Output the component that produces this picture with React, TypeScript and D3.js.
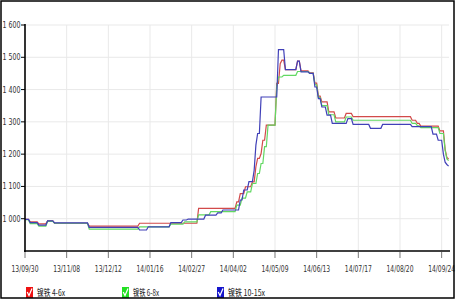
import React from "react";
import * as d3 from "d3";

// x axis: trading-day index, labelled every 24 points
const tickLabels = ["13/09/30", "13/11/08", "13/12/12", "14/01/16", "14/02/27", "14/04/02", "14/05/09", "14/06/13", "14/07/17", "14/08/20", "14/09/24"];
const tickStep = 24;
const lastIndex = 244;
const yTicks = [1000, 1100, 1200, 1300, 1400, 1500, 1600];

const seriesNames = ["镍铁 4-6x", "镍铁 6-8x", "镍铁 10-15x"];

// [start index, value] : value holds from that index to the next step
const redSteps: [number, number][] = [
  [0, 998], [3, 990], [8, 984], [13, 993], [17, 986], [37, 977], [66, 986],
  [100, 1032], [122, 1052], [124, 1078], [127, 1099], [131, 1114], [133, 1161],
  [134, 1187], [136, 1202], [137, 1243], [139, 1290], [145, 1419], [147, 1480],
  [148, 1491], [150, 1462], [157, 1488], [159, 1458], [164, 1452], [167, 1420],
  [169, 1380], [171, 1362], [175, 1331], [179, 1312], [185, 1326], [189, 1316],
  [223, 1305], [226, 1295], [228, 1287], [239, 1272], [242, 1215], [243, 1190], [244, 1185],
];
const greenSteps: [number, number][] = [
  [0, 997], [3, 985], [8, 977], [13, 992], [17, 986], [37, 968], [66, 975],
  [84, 983], [92, 990], [100, 1012], [107, 1022], [122, 1042], [125, 1064],
  [128, 1083], [131, 1109], [134, 1140], [136, 1171], [138, 1223], [140, 1290],
  [145, 1408], [146, 1439], [149, 1444], [157, 1456], [164, 1450], [167, 1415],
  [169, 1375], [171, 1350], [175, 1322], [179, 1300], [185, 1315], [189, 1305],
  [223, 1295], [226, 1288], [228, 1282], [239, 1264], [242, 1212], [243, 1185], [244, 1180],
];
const blueSteps: [number, number][] = [
  [0, 998], [3, 988], [8, 980], [13, 993], [17, 987], [37, 973], [66, 965],
  [71, 975], [84, 988], [91, 996], [94, 999], [104, 1011], [111, 1018], [114, 1027],
  [124, 1058], [126, 1089], [129, 1115], [132, 1150], [133, 1228], [134, 1264],
  [136, 1377], [146, 1524], [150, 1462], [157, 1488], [159, 1455], [164, 1450],
  [167, 1408], [169, 1372], [171, 1346], [174, 1321], [177, 1295], [186, 1310],
  [189, 1292], [199, 1280], [206, 1292], [223, 1285], [235, 1262], [238, 1243],
  [241, 1200], [242, 1175], [243, 1168], [244, 1163],
];

const lineColors = ["#d24a4a", "#62d862", "#4040b8"];
const boxColors = ["#ee1111", "#22e022", "#1515cc"];

function expand(steps: [number, number][]): [number, number][] {
  const pts: [number, number][] = [];
  steps.forEach(([s, v], k) => {
    pts.push([s, v]);
    const next = k + 1 < steps.length ? steps[k + 1][0] : lastIndex;
    if (next - 1 > s) pts.push([next - 1, v]);
  });
  return pts;
}

export default function App() {
  const W = 458, H = 302;
  const x = d3.scaleLinear().domain([0, lastIndex]).range([25, 448.6]);
  const y = d3.scaleLinear().domain([900, 1600]).range([251, 25]);
  const line = d3.line<[number, number]>().x((d) => x(d[0])).y((d) => y(d[1]));
  const all = [redSteps, greenSteps, blueSteps];
  const font = "Tahoma, 'DejaVu Sans', 'Liberation Sans', sans-serif";
  const labelW = [28, 26, 37];
  const legendX = [26, 122, 217];

  return (
    <svg width={W} height={H} style={{ position: "absolute", left: 0, top: 0 }} fontFamily={font}>
      <rect x={0} y={0} width={W} height={H} fill="#fff" />
      {/* grid */}
      {yTicks.map((t) => (
        <line key={"gy" + t} x1={25} x2={449} y1={y(t)} y2={y(t)} stroke="#e9e9e9" strokeWidth={1} />
      ))}
      {tickLabels.map((_, i) => i > 0 && (
        <line key={"gx" + i} x1={x(i * tickStep)} x2={x(i * tickStep)} y1={25} y2={251} stroke="#e9e9e9" strokeWidth={1} />
      ))}
      {/* series */}
      {all.map((s, k) => (
        <path key={"s" + k} d={line(expand(s)) || ""} fill="none" stroke={lineColors[k]} strokeWidth={1.2} />
      ))}
      {/* axes */}
      <line x1={25} x2={25} y1={24} y2={252} stroke="#000" strokeWidth={1.6} />
      <line x1={24} x2={450} y1={251} y2={251} stroke="#000" strokeWidth={1.6} />
      {yTicks.map((t) => (
        <g key={"yt" + t}>
          <line x1={21} x2={25} y1={y(t)} y2={y(t)} stroke="#000" strokeWidth={1} />
          <text x={20.5} y={y(t) + 3} fontSize={9} fill="#333" textAnchor="end" textLength={18} lengthAdjust="spacingAndGlyphs">
            {d3.format(",")(t).replace(",", " ")}
          </text>
        </g>
      ))}
      {tickLabels.map((lab, i) => (
        <g key={"xt" + i}>
          <line x1={x(i * tickStep)} x2={x(i * tickStep)} y1={252} y2={258} stroke="#777" strokeWidth={1} />
          <text x={x(i * tickStep)} y={272} fontSize={9} fill="#333" textAnchor="middle" textLength={27} lengthAdjust="spacingAndGlyphs">
            {lab}
          </text>
        </g>
      ))}
      {/* legend */}
      {seriesNames.map((n, k) => (
        <g key={"lg" + k}>
          <rect x={legendX[k]} y={287} width={7} height={11} fill={boxColors[k]} />
          <path d={`M${legendX[k] + 1.2},${292} L${legendX[k] + 3},${295.5} L${legendX[k] + 6},${288.5}`} fill="none" stroke="#fff" strokeWidth={1.2} />
          <text x={legendX[k] + 11} y={296} fontSize={9} fill="#222" textLength={labelW[k]} lengthAdjust="spacingAndGlyphs"
            fontFamily="'Noto Sans CJK SC', Tahoma, sans-serif">
            {n}
          </text>
        </g>
      ))}
      {/* outer frame */}
      <rect x={1} y={1} width={453} height={297} fill="none" stroke="#000" strokeWidth={1.5} />
    </svg>
  );
}
